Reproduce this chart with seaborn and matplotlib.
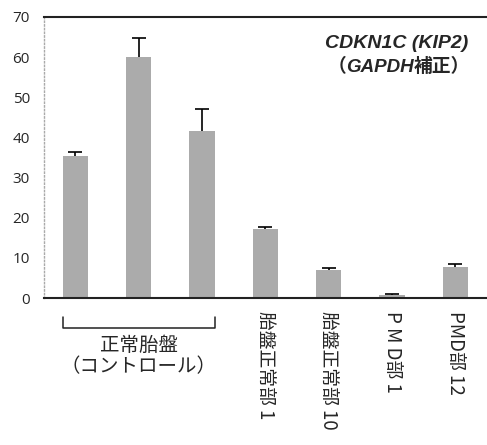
import matplotlib.pyplot as plt
import numpy as np
import pandas as pd
import seaborn as sns

samples = ["control_1", "control_2", "control_3",
           "胎盤正常部 1", "胎盤正常部 10", "P M D部 1", "PMD部 12"]
tick_labels = ["", "", "", "胎盤正常部 1", "胎盤正常部 10", "P M D部 1", "PMD部 12"]
means = [35.4, 60.0, 41.7, 17.1, 7.0, 0.75, 7.8]
err_up = [1.1, 4.7, 5.3, 0.5, 0.6, 0.35, 0.6]
y_ticks = [0, 10, 20, 30, 40, 50, 60, 70]

sns.set_theme(style="white")
plt.rcParams["font.family"] = ["Noto Sans CJK JP", "DejaVu Sans"]

df = pd.DataFrame({"sample": samples, "value": means})

fig = plt.figure(figsize=(4.87, 4.45), dpi=100)
ax = fig.add_axes([0.090, 0.330, 0.910, 0.632])

sns.barplot(data=df, x="sample", y="value", color="#ababab", width=0.4,
            saturation=1, edgecolor="none", ax=ax)
x = np.arange(len(samples))
eb = ax.errorbar(x, means, yerr=[np.zeros(len(means)), err_up], fmt="none",
                 ecolor="black", elinewidth=1.2, capsize=5, capthick=1.2)
eb[1][0].set_visible(False)  # only the upper cap

ax.set_xlim(-0.5, len(samples) - 0.5)
ax.set_ylim(0, 70)
ax.set_yticks(y_ticks)
ax.set_yticklabels([str(t) for t in y_ticks], fontsize=11, family="Open Sans")
ax.tick_params(axis="y", length=2, color="#999999", pad=8)
ax.set_xticks(x)
ax.set_xticklabels(tick_labels, rotation=-90, fontsize=13.5, va="top", ha="center")
ax.tick_params(axis="x", length=0, pad=9)
ax.set_xlabel("")
ax.set_ylabel("")

for side in ["top", "bottom"]:
    ax.spines[side].set_color("#222222")
    ax.spines[side].set_linewidth(1.5)
ax.spines["right"].set_visible(False)
ax.spines["left"].set_color("#aaaaaa")
ax.spines["left"].set_linestyle(":")
ax.spines["left"].set_linewidth(1.0)

# title block
ax.text(0.958, 0.89, "CDKN1C (KIP2)", transform=ax.transAxes, ha="right",
        va="baseline", fontsize=14, fontweight="bold", fontstyle="italic",
        family="Liberation Sans")
t_end = ax.text(0.962, 0.805, "補正）", transform=ax.transAxes, ha="right",
                va="baseline", fontsize=13.5, fontweight="bold")
t_gene = ax.annotate("GAPDH", xy=(0, 0), xycoords=t_end, va="bottom", ha="right",
                     fontsize=13.5, fontweight="bold", fontstyle="italic",
                     family="Liberation Sans")
ax.annotate("（", xy=(0, 0), xycoords=t_gene, va="bottom", ha="right",
            fontsize=13.5, fontweight="bold")

# bracket under the control group
trans = ax.get_xaxis_transform()
bx0, bx1 = -0.2, 2.2
ax.plot([bx0, bx0, bx1, bx1], [-0.068, -0.107, -0.107, -0.068], color="#222222",
        lw=1.1, transform=trans, clip_on=False)
ax.text(1, -0.167, "正常胎盤", transform=trans, ha="center", va="center", fontsize=14)
ax.text(1, -0.245, "（コントロール）", transform=trans, ha="center", va="center", fontsize=14)

fig.savefig("out.png", dpi=100)
